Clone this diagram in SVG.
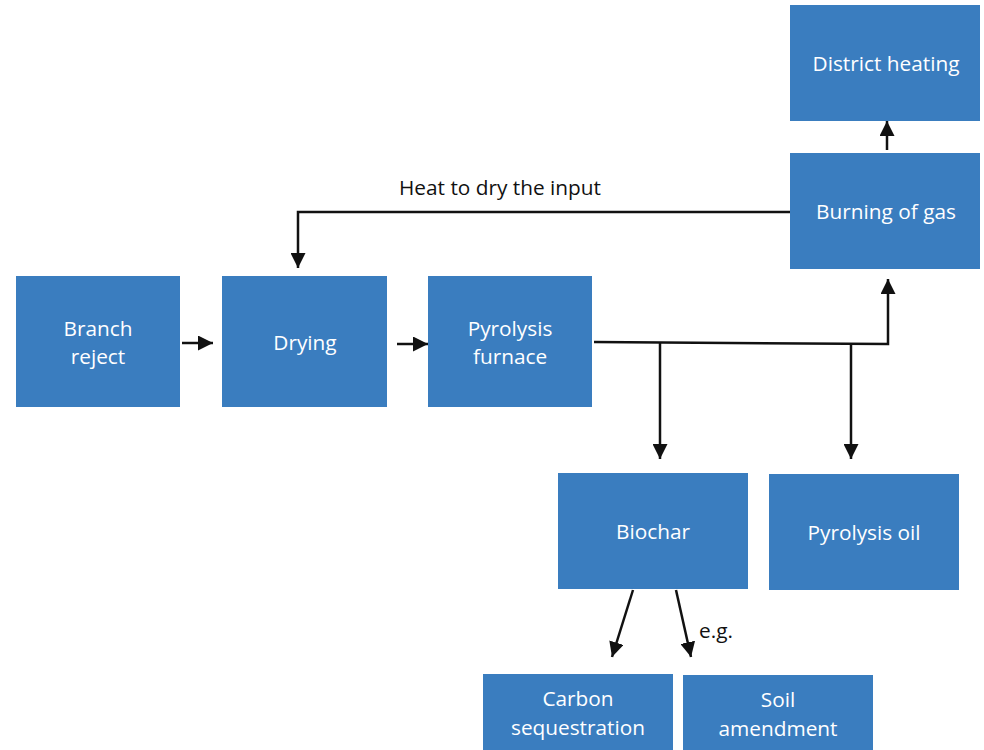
<svg xmlns="http://www.w3.org/2000/svg" width="984" height="750" viewBox="0 0 984 750">
<style>
.box{fill:#3A7DBF}
.t{font-family:"Open Sans","Liberation Sans",sans-serif;font-size:20.8px;fill:#fff;text-anchor:middle}
.l{font-family:"Open Sans","Liberation Sans",sans-serif;font-size:20.8px;fill:#111}
.c{stroke:#111;stroke-width:2.5;fill:none}
</style>
<defs>
<marker id="ah" viewBox="0 0 10 10" refX="10" refY="5" markerWidth="6" markerHeight="6" markerUnits="strokeWidth" orient="auto">
<path d="M0,0 L10,5 L0,10 z" fill="#111"/>
</marker>
</defs>
<rect width="984" height="750" fill="#fff"/>
<g id="branch"><rect class="box" x="16" y="276" width="164" height="131"/><text class="t" x="98" y="336">Branch</text><text class="t" x="98" y="364">reject</text></g>
<g id="drying"><rect class="box" x="222" y="276" width="165" height="131"/><text class="t" x="305" y="350">Drying</text></g>
<g id="furnace"><rect class="box" x="428" y="276" width="164" height="131"/><text class="t" x="510" y="336">Pyrolysis</text><text class="t" x="510" y="364">furnace</text></g>
<g id="district"><rect class="box" x="790" y="5" width="190" height="116"/><text class="t" x="886" y="71">District heating</text></g>
<g id="burning"><rect class="box" x="790" y="153" width="190" height="116"/><text class="t" x="886" y="219">Burning of gas</text></g>
<g id="biochar"><rect class="box" x="558" y="473" width="190" height="116"/><text class="t" x="653" y="539">Biochar</text></g>
<g id="oil"><rect class="box" x="769" y="474" width="190" height="116"/><text class="t" x="864" y="540">Pyrolysis oil</text></g>
<g id="carbon"><rect class="box" x="483" y="674" width="190" height="80"/><text class="t" x="578" y="706">Carbon</text><text class="t" x="578" y="735">sequestration</text></g>
<g id="soil"><rect class="box" x="683" y="675" width="190" height="80"/><text class="t" x="778" y="707">Soil</text><text class="t" x="778" y="736">amendment</text></g>
<g id="connectors">
<line class="c" x1="182" y1="343" x2="213" y2="343" marker-end="url(#ah)"/>
<line class="c" x1="397" y1="344" x2="428" y2="344" marker-end="url(#ah)"/>
<polyline class="c" points="594,342 888,344 888,279" marker-end="url(#ah)"/>
<line class="c" x1="660" y1="343" x2="660" y2="459" marker-end="url(#ah)"/>
<line class="c" x1="851" y1="344" x2="851" y2="459" marker-end="url(#ah)"/>
<polyline class="c" points="790,212 298,212 298,268" marker-end="url(#ah)"/>
<line class="c" x1="887" y1="150" x2="887" y2="121" marker-end="url(#ah)"/>
<line class="c" x1="633" y1="590" x2="612" y2="657" marker-end="url(#ah)"/>
<line class="c" x1="676" y1="590" x2="691" y2="657" marker-end="url(#ah)"/>
</g>
<text class="l" x="399" y="195">Heat to dry the input</text>
<text class="l" x="699" y="638">e.g.</text>
</svg>
